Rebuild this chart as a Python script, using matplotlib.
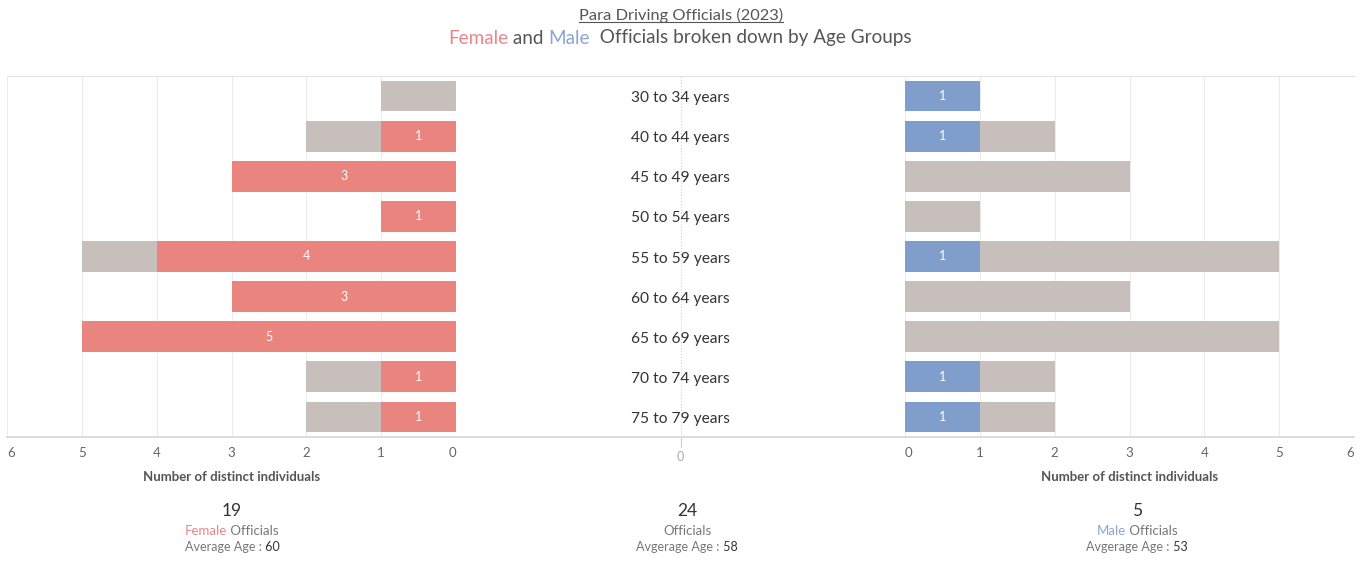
import matplotlib
matplotlib.use('Agg')
import matplotlib.pyplot as plt
from matplotlib.lines import Line2D

plt.rcParams['font.family'] = ['Lato', 'DejaVu Sans']

ages = ['30 to 34 years', '40 to 44 years', '45 to 49 years', '50 to 54 years',
        '55 to 59 years', '60 to 64 years', '65 to 69 years', '70 to 74 years',
        '75 to 79 years']
female = [0, 1, 3, 1, 4, 3, 5, 1, 1]
male = [1, 1, 0, 0, 1, 0, 0, 1, 1]
total = [1, 2, 3, 1, 5, 3, 5, 2, 2]
n_female, n_male, n_all = 19, 5, 24
avg_female, avg_male, avg_all = 60, 53, 58

PINK = '#E9847F'
BLUE = '#7F9ECC'
GREY = '#C6BFBC'
TXT = '#555555'

W, H = 1362, 561
fig = plt.figure(figsize=(W / 100, H / 100), dpi=100)
top, bot = 1 - 76 / H, 1 - 437 / H
axL = fig.add_axes([7 / W, bot, 449 / W, top - bot])
axM = fig.add_axes([456 / W, bot, 449 / W, top - bot])
axR = fig.add_axes([905 / W, bot, 449 / W, top - bot])

y = list(range(len(ages)))
bh = 0.77

for ax in (axL, axM, axR):
    ax.set_ylim(len(ages) - 0.5, -0.5)
    ax.set_yticks([])
    for s in ('left', 'right'):
        ax.spines[s].set_visible(False)
    ax.spines['top'].set_color('#e4e4e4')
    ax.spines['bottom'].set_color('#d6d6d6')
    ax.spines['bottom'].set_linewidth(1.2)
    ax.set_axisbelow(True)

# left: female
axL.barh(y, total, height=bh, color=GREY)
axL.barh(y, female, height=bh, color=PINK)
axL.set_xlim(6, 0)
for i, v in enumerate(female):
    if v > 0:
        axL.text(v / 2, i, str(v), color='white', ha='center', va='center', fontsize=9)

# right: male
axR.barh(y, total, height=bh, color=GREY)
axR.barh(y, male, height=bh, color=BLUE)
axR.set_xlim(0, 6)
for i, v in enumerate(male):
    if v > 0:
        axR.text(v / 2, i, str(v), color='white', ha='center', va='center', fontsize=9)

for ax in (axL, axR):
    ax.set_xticks(range(7))
    ax.grid(axis='x', color='#ececec', lw=0.8)
    ax.tick_params(axis='x', length=0, pad=7, labelsize=9.5, labelcolor='#666666')
    ax.set_xlabel('Number of distinct individuals', fontsize=9.5, fontweight='bold',
                  color=TXT, labelpad=9)

# keep end labels inside the panel, like the original
labsL = axL.get_xticklabels()
labsL[6].set_ha('left')
labsL[0].set_ha('right')
labsR = axR.get_xticklabels()
labsR[0].set_ha('left')
labsR[6].set_ha('right')

# middle: labels
axM.set_xlim(-1, 1)
axM.axvline(0, color='#d0d0d0', lw=0.8, ls=':', zorder=0)
axM.set_xticks([0])
axM.tick_params(axis='x', length=7, color='#cccccc', pad=3, labelsize=9, labelcolor='#aaaaaa')
for i, a in enumerate(ages):
    axM.text(0, i + 0.05, a, ha='center', va='center', fontsize=11.2, color='#333333')

renderer = fig.canvas.get_renderer()


def rich(xc, yy, parts, **kw):
    texts = [fig.text(0, yy, s, color=c, **kw) for s, c in parts]
    widths = [t.get_window_extent(renderer).width for t in texts]
    x0 = xc * W - sum(widths) / 2
    for t, w in zip(texts, widths):
        t.set_position((x0 / W, yy))
        x0 += w
    return texts


# titles
t1 = fig.text(681 / W, 1 - 15 / H, 'Para Driving Officials (2023)', ha='center', va='center',
              fontsize=11.8, color=TXT)
bb = t1.get_window_extent(renderer)
fig.add_artist(Line2D([bb.x0 / W, bb.x1 / W], [(bb.y0 + 1) / H] * 2, color=TXT, lw=0.8))
rich(680 / W, 1 - 38 / H, [('Female', '#E8878A'), (' and ', TXT), ('Male', '#8AA5D0'),
                           ('  Officials broken down by Age Groups', TXT)],
     va='center', fontsize=13.6)

# summary blocks
blocks = [(232, n_female, [('Female', '#E8878A'), (' Officials', '#777777')], 'Average Age :', avg_female),
          (687, n_all, [('Officials', '#777777')], 'Avgerage Age :', avg_all),
          (1137, n_male, [('Male', '#8AA5D0'), (' Officials', '#777777')], 'Avgerage Age :', avg_male)]
for xc, n, parts, lab, avg in blocks:
    fig.text(xc / W, 1 - 511 / H, str(n), ha='center', va='center', fontsize=12.5, color='#333333')
    rich(xc / W, 1 - 531 / H, parts, va='center', fontsize=9.5)
    rich(xc / W, 1 - 547 / H, [(lab, '#777777'), (' ' + str(avg), '#333333')], va='center', fontsize=9)

fig.savefig('out.png', dpi=100, facecolor='white')
